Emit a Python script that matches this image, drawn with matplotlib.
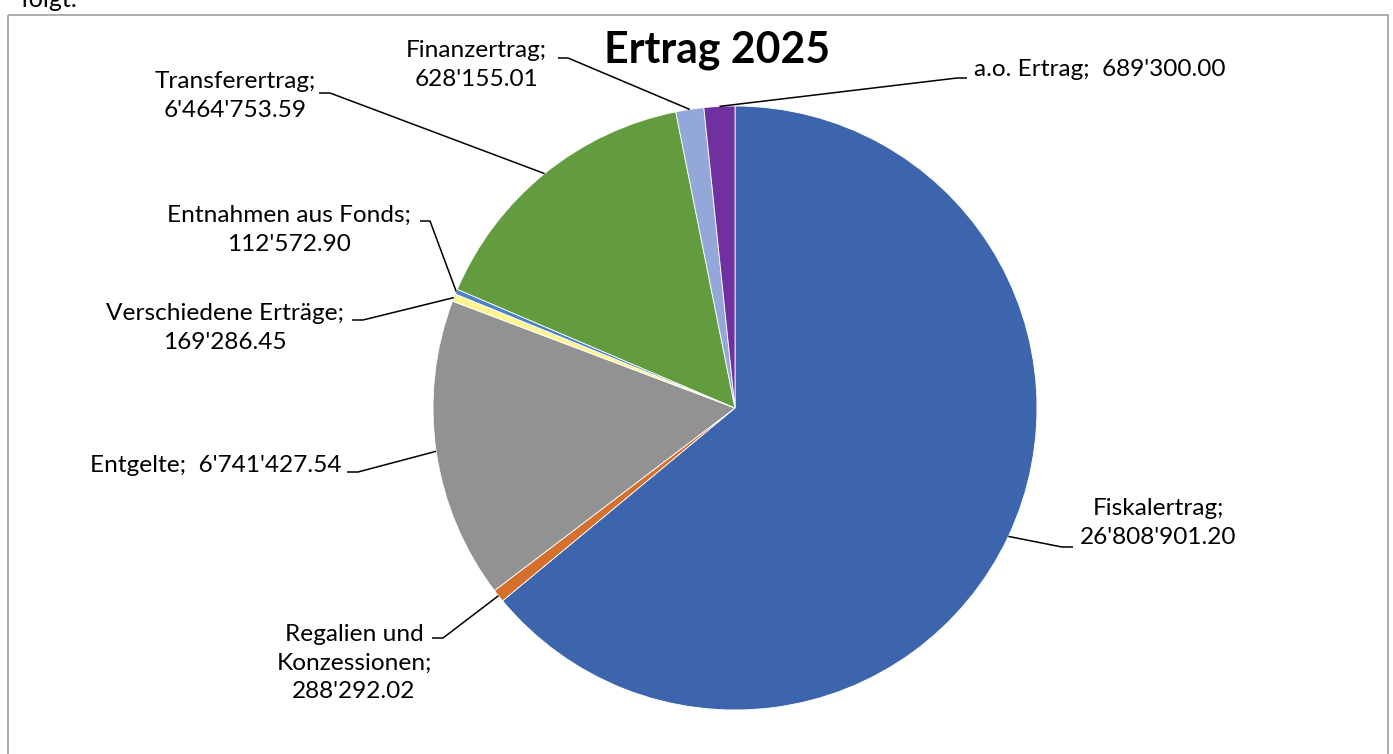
import numpy as np
import matplotlib
matplotlib.use("Agg")
import matplotlib.pyplot as plt
from matplotlib.patches import Rectangle

plt.rcParams['font.family'] = ['Lato', 'DejaVu Sans']

# Ertrag 2025 data (clockwise from 12 o'clock)
categories = ["Fiskalertrag", "Regalien und Konzessionen", "Entgelte",
              "Verschiedene Erträge", "Entnahmen aus Fonds", "Transferertrag",
              "Finanzertrag", "a.o. Ertrag"]
values = [26808901.20, 288292.02, 6741427.54, 169286.45,
          112572.90, 6464753.59, 628155.01, 689300.00]
label_texts = ["Fiskalertrag;\n26'808'901.20",
               "Regalien und\nKonzessionen;\n288'292.02",
               "Entgelte;  6'741'427.54",
               "Verschiedene Erträge;\n169'286.45",
               "Entnahmen aus Fonds;\n112'572.90",
               "Transferertrag;\n6'464'753.59",
               "Finanzertrag;\n628'155.01",
               "a.o. Ertrag;  689'300.00"]
colors = ["#3D65AD", "#D46F2C", "#929292", "#FFF590",
          "#4A82C6", "#629C3E", "#93A7D8", "#7030A0"]

# layout in pixel coords: (text x, text y, ha, elbow x, elbow y, end x)
label_layout = [
    (1158, 523, 'center', 1062, 547, 1073),
    (354, 663, 'center', 443, 638, 432),
    (341, 466, 'right', 358, 472, 347),
    (225, 328, 'center', 363, 320, 352),
    (289, 230, 'center', 430, 221, 420),
    (235, 96, 'center', 330, 93, 319),
    (476, 65, 'center', 568, 58, 558),
    (974, 70, 'left', 957, 78, 967),
]

W, H = 1393, 754
fig = plt.figure(figsize=(W / 100, H / 100), dpi=100)
ax = fig.add_axes([0, 0, 1, 1])

cx, cy, r = 735, 408, 302
wedges, _ = ax.pie(values, colors=colors, startangle=-90, counterclock=True,
                   center=(cx, cy), radius=r,
                   wedgeprops=dict(edgecolor='white', linewidth=0.6))

ax.set_xlim(0, W)
ax.set_ylim(H, 0)
ax.set_aspect('auto')
ax.axis('off')

for w, txt, lay in zip(wedges, label_texts, label_layout):
    tx, ty, ha, ex, ey, endx = lay
    mid = np.deg2rad((w.theta1 + w.theta2) / 2)
    px = cx + r * np.cos(mid)
    py = cy + r * np.sin(mid)
    ax.plot([px, ex, endx], [py, ey, ey], color='black', linewidth=1.1,
            solid_capstyle='butt')
    ax.text(tx, ty, txt, ha=ha, va='center', multialignment='center',
            fontsize=17.6, color='black', linespacing=1.45)

ax.text(717, 50, "Ertrag 2025", ha='center', va='center', fontsize=30.8,
        fontweight='bold', color='black')

# chart frame
ax.add_patch(Rectangle((8, 15), 1380, 760, fill=False, edgecolor='#A6A6A6',
                       linewidth=1.3))

# text above the chart frame, cut at the top edge as in the source
fig.text(20 / W, 1 - 7 / H, "folgt:", ha='left', va='baseline', fontsize=18,
         color='black')

fig.savefig("out.png", dpi=100, facecolor='white')
